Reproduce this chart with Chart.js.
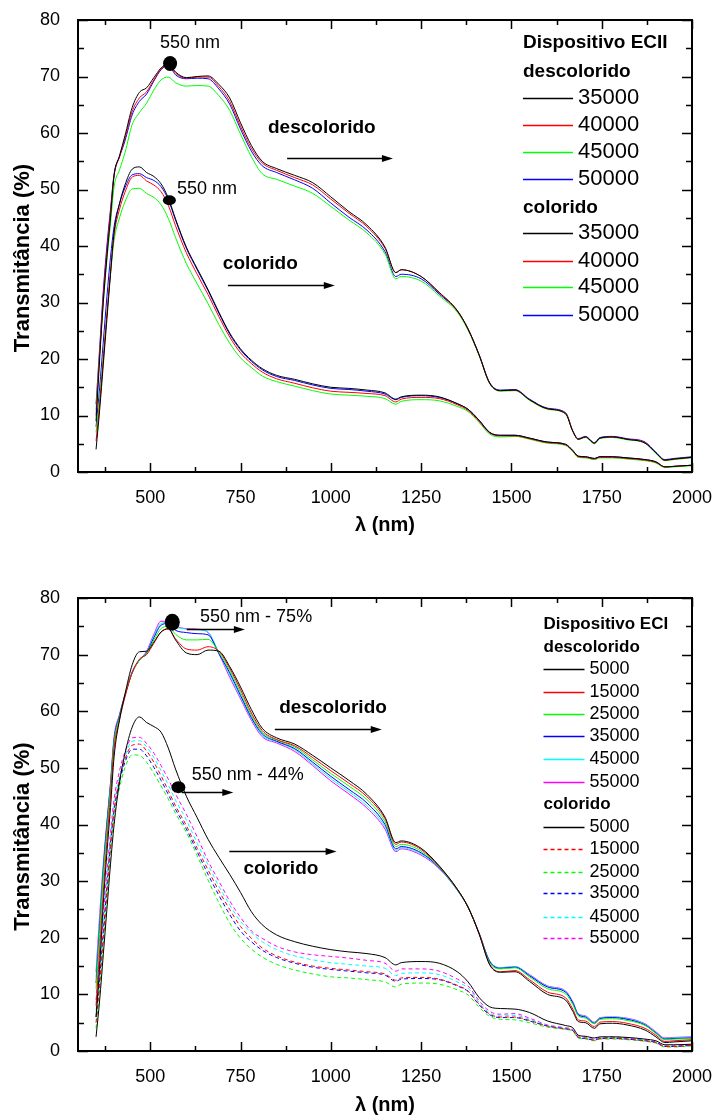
<!DOCTYPE html>
<html><head><meta charset="utf-8">
<script src="https://cdn.jsdelivr.net/npm/chart.js@4.4.0/dist/chart.umd.min.js"></script>
<style>html,body{margin:0;padding:0;background:#fff;} .box{width:714px;height:559px;position:relative;} canvas{display:block;}</style>
</head><body>
<div class="box"><canvas id="c1" width="714" height="559"></canvas></div>
<div class="box"><canvas id="c2" width="714" height="559"></canvas></div>
<script>
// ---------- data ----------
const W = [350,360,370,380,390,400,415,430,450,470,490,510,530,550,570,600,630,660,690,720,750,780,810,850,900,950,1000,1050,1100,1150,1180,1195,1250,1300,1350,1380,1410,1440,1470,1510,1550,1600,1650,1670,1685,1705,1730,1745,1780,1820,1870,1900,1925,1950,2000];
const xTickLabels = [500,750,1000,1250,1500,1750,2000];
const yTickLabels = [0,10,20,30,40,50,60,70,80];

// Top chart (Dispositivo ECII)
const topDesc35000 = [9,20,30,38,45,52.5,56,59.5,64.5,67.2,68.0,69.8,71.5,72.3,70.8,69.8,70.0,70.1,68.6,66.2,61.8,57.8,55.0,53.7,52.5,51.2,48.7,46.1,43.7,39.8,35.3,35.8,34.6,31.8,28.6,25.3,20.8,15.7,14.4,14.5,12.8,11.2,10.3,7.2,5.8,6.2,5.1,6.0,6.2,5.8,5.1,3.4,2.1,2.3,2.6];
const topDesc40000 = [10,21,31,39,46,52.5,55.8,59,63.8,66.2,67.3,69.4,71.3,72.2,70.6,69.7,69.9,69.9,68.2,65.6,61.2,57.3,54.7,53.4,52.1,50.8,48.3,45.8,43.4,39.6,35.3,35.8,34.6,31.7,28.5,25.3,20.8,15.7,14.4,14.5,12.8,11.2,10.4,7.2,5.8,6.2,5.1,6.0,6.2,5.8,5.2,3.4,2.1,2.3,2.6];
const topDesc45000 = [11,21,30,37.5,44,50.5,53.5,56.5,61.5,63.6,65.3,67.6,69.4,69.9,68.9,68.3,68.4,68.3,66.6,64.0,59.8,55.8,52.8,51.8,50.6,49.3,47.0,44.6,42.3,38.6,34.2,34.6,33.8,31.2,28.3,25.1,20.7,15.6,14.3,14.4,12.7,11.1,10.3,7.2,5.8,6.1,5.0,5.9,6.1,5.7,5.1,3.3,2.0,2.2,2.5];
const topDesc50000 = [12,22,32,40,46.5,52.8,55.8,58.6,63.2,65.6,66.9,69.2,71.2,72.0,70.3,69.6,69.7,69.6,67.8,65.1,60.7,56.8,54.2,53.0,51.7,50.2,47.6,45.1,42.8,39.0,34.6,35.0,34.2,31.5,28.5,25.3,20.9,15.8,14.5,14.6,12.9,11.3,10.5,7.3,5.9,6.3,5.2,6.1,6.3,5.9,5.3,3.5,2.2,2.4,2.7];
const topCol35000 = [4,11,19,27,35,42.5,47.5,50.8,53.6,54.0,53.0,52.3,51.0,48.5,44.8,39.8,36.0,32.3,28.3,24.6,21.8,19.8,18.3,17.1,16.4,15.6,15.0,14.8,14.5,14.0,12.9,13.3,13.6,13.3,12.1,11.1,9.2,7.0,6.5,6.5,6.0,5.3,4.9,3.8,2.8,2.7,2.4,2.7,2.7,2.5,2.2,1.8,0.9,1.0,1.2];
const topCol40000 = [5.5,12,20,28,35.5,42,46.5,49.5,52.2,52.5,51.5,50.8,49.6,47.2,43.6,38.8,35.0,31.4,27.5,23.9,21.1,19.2,17.7,16.5,15.7,14.9,14.3,14.1,13.9,13.5,12.4,12.9,13.2,13.0,11.9,10.9,9.0,6.9,6.4,6.4,5.9,5.2,4.8,3.7,2.7,2.6,2.3,2.6,2.6,2.4,2.1,1.7,0.9,1.0,1.2];
const topCol45000 = [7,13,20.5,28,35,41,45,47.8,50.1,50.2,49.3,48.6,47.3,44.9,41.5,36.9,33.3,29.8,26.1,22.8,20.2,18.5,17.0,16.0,15.2,14.4,13.8,13.6,13.4,13.0,12.0,12.5,12.8,12.6,11.6,10.7,8.8,6.7,6.2,6.3,5.8,5.1,4.7,3.6,2.6,2.5,2.2,2.5,2.5,2.3,2.0,1.6,0.8,0.9,1.1];
const topCol50000 = [8,15,23,31,38,43.5,47.5,50.3,52.6,52.8,52.1,51.6,50.5,48.2,44.6,39.6,35.8,32.1,28.1,24.4,21.6,19.6,18.1,16.9,16.2,15.4,14.8,14.6,14.3,13.8,12.8,13.2,13.5,13.2,12.1,11.1,9.2,7.0,6.5,6.5,6.0,5.3,4.9,3.8,2.8,2.7,2.4,2.7,2.7,2.5,2.2,1.8,0.9,1.0,1.2];

// Bottom chart (Dispositivo ECI)
const botDesc5000  = [6,15,26,35,43,52,58.5,63,68.2,70.5,70.6,72.2,74.0,74.6,72.6,70.3,70.0,70.8,70.6,67.9,64.3,60.3,57.0,55.3,54.2,52.2,50.0,47.8,45.3,41.3,36.8,37.1,35.8,32.7,28.6,25.4,20.8,15.2,13.9,14.0,12.3,10.0,9.0,7.0,5.2,5.0,4.0,4.8,4.9,4.6,3.7,2.5,1.5,1.6,1.8];
const botDesc15000 = [8,18,28,37,45,53.5,58.5,62.5,66.8,69.2,70.0,72.0,74.0,74.5,72.8,71.0,70.8,71.4,70.6,67.6,63.8,59.7,56.6,55.0,53.9,51.8,49.5,47.3,44.9,41.0,36.5,36.9,35.6,32.6,28.6,25.4,20.8,15.3,14.0,14.2,12.6,10.4,9.4,7.4,5.5,5.3,4.3,5.1,5.2,4.9,4.0,2.8,1.7,1.8,2.0];
const botDesc25000 = [11,21,31,39,46.5,54.5,59,62.8,66.8,69.0,70.2,72.6,74.6,75.0,73.6,72.6,72.6,72.7,70.4,67.2,63.3,59.3,56.3,54.9,53.7,51.4,49.0,46.8,44.4,40.5,36.1,36.5,35.3,32.5,28.5,25.4,20.8,15.6,14.5,14.7,13.1,11.0,10.1,8.2,6.2,5.8,4.8,5.6,5.7,5.4,4.5,3.1,2.0,2.1,2.2];
const botDesc35000 = [12,22,32,40,47,55,59.2,62.8,66.8,69.0,70.3,73.0,75.2,75.5,74.3,73.9,73.7,73.5,70.2,66.8,62.8,58.9,56.0,54.7,53.4,51.0,48.5,46.2,43.8,40.0,35.7,36.1,35.0,32.4,28.5,25.4,20.9,15.8,14.6,14.8,13.3,11.3,10.4,8.5,6.4,6.0,4.9,5.7,5.9,5.6,4.6,3.2,2.1,2.2,2.3];
const botDesc45000 = [13,23,32.5,40,47,55,59.3,62.8,66.9,69.0,70.4,73.3,75.5,75.7,74.9,74.5,74.4,74.0,70.3,66.4,62.5,58.7,55.7,54.6,53.2,50.7,48.1,45.8,43.3,39.6,35.4,35.9,34.8,32.3,28.4,25.4,20.9,15.9,14.7,14.9,13.4,11.4,10.5,8.6,6.5,6.1,5.0,5.8,6.0,5.7,4.7,3.3,2.2,2.3,2.4];
const botDesc55000 = [14,24,33,40.5,47.5,55.5,59.5,63,67,69.0,70.6,73.6,75.9,75.8,75.0,74.6,74.5,73.9,70.2,66.0,62.2,58.4,55.5,54.4,52.9,50.4,47.7,45.4,42.9,39.2,35.2,35.7,34.6,32.2,28.4,25.4,20.9,15.9,14.7,14.9,13.5,11.5,10.6,8.7,6.6,6.2,5.1,5.9,6.0,5.8,4.8,3.4,2.3,2.4,2.5];
const botCol5000  = [2.5,9,17,25,33,40,47.5,52.5,57.2,59.0,58.0,57.3,56.3,53.5,49.8,45.0,41.2,37.4,34.2,31.2,28.0,24.6,22.3,20.5,19.3,18.5,17.9,17.5,17.2,16.5,15.2,15.6,15.8,15.5,14.0,12.2,9.5,7.8,7.5,7.4,6.8,5.3,4.5,4.1,2.8,2.6,2.3,2.5,2.5,2.4,2.1,1.8,1.1,1.1,1.2];
const botCol15000 = [5,12,20,28,36,42.5,48,51.5,54.0,54.2,53.0,51.0,48.6,46.0,43.3,39.8,35.8,32.0,28.3,25.0,22.0,19.9,18.2,16.8,15.7,15.0,14.6,14.3,14.0,13.6,12.5,12.9,13.0,12.7,11.6,10.6,8.3,6.5,6.0,6.0,5.4,4.4,3.9,3.6,2.4,2.3,1.9,2.2,2.3,2.1,1.8,1.5,0.8,0.8,1.0];
const botCol25000 = [4,11,19,27,35,41.5,46.5,50,52.3,52.2,51.0,49.0,46.8,44.5,42.0,38.6,34.5,30.2,26.2,22.6,19.9,18.0,16.6,15.3,14.3,13.6,13.1,12.9,12.6,12.2,11.3,11.8,12.0,11.8,10.8,9.9,7.8,6.1,5.6,5.5,5.0,4.2,3.8,3.5,2.3,2.1,1.8,2.1,2.1,2.0,1.7,1.4,0.7,0.7,0.9];
const botCol35000 = [6,13,21,29,36.5,42.5,47.5,51,53.3,53.3,52.1,50.1,47.8,45.3,42.7,39.2,35.2,31.2,27.5,24.1,21.2,19.3,17.8,16.5,15.5,14.8,14.4,14.1,13.8,13.4,12.3,12.7,12.8,12.6,11.5,10.5,8.2,6.4,5.9,5.9,5.3,4.4,3.9,3.6,2.4,2.2,1.9,2.2,2.2,2.1,1.8,1.5,0.8,0.8,1.0];
const botCol45000 = [7,14,22,30,37.5,43.5,48.5,52,54.7,54.8,53.7,51.8,49.5,47.0,44.3,40.8,36.7,32.9,29.1,25.8,22.9,20.9,19.3,17.9,16.8,16.1,15.6,15.3,15.0,14.6,13.3,13.7,13.8,13.5,12.2,11.1,8.6,6.7,6.2,6.3,5.6,4.5,4.0,3.7,2.5,2.4,2.0,2.3,2.4,2.2,1.9,1.5,0.8,0.8,1.0];
const botCol55000 = [9,16,24,31.5,38.5,44.5,49.5,52.8,55.3,55.4,54.3,52.6,50.4,48.0,45.4,41.8,37.8,33.6,30.0,26.5,23.6,21.2,19.9,18.5,17.5,17.0,16.7,16.4,16.0,15.5,14.1,14.5,14.5,14.1,12.7,11.5,8.9,7.0,6.5,6.6,5.8,4.6,4.1,3.8,2.6,2.5,2.1,2.4,2.5,2.3,2.0,1.6,0.9,0.9,1.1];

const topLegendLabels = ['35000','40000','45000','50000'];
const botLegendLabels = ['5000','15000','25000','35000','45000','55000'];
const yTitleText = 'Transmitância (%)';
const xTitleText = 'λ (nm)';

// ---------- styles ----------
Chart.defaults.font.family = "'Liberation Sans', Arial, Helvetica, sans-serif";
Chart.defaults.color = '#000';
const FONT = "'Liberation Sans', Arial, sans-serif";
const BLACK='#000000', RED='#ff0000', GREEN='#00ff00', BLUE='#0000ff', CYAN='#00ffff', MAGENTA='#ff00ff';
const DASH=[4,3];

function drawArrow(ctx, x1, x2, y) {
  ctx.save();
  ctx.strokeStyle = '#000'; ctx.fillStyle = '#000'; ctx.lineWidth = 1.3;
  ctx.beginPath(); ctx.moveTo(x1, y); ctx.lineTo(x2 - 8, y); ctx.stroke();
  ctx.beginPath(); ctx.moveTo(x2, y); ctx.lineTo(x2 - 11, y - 3.5); ctx.lineTo(x2 - 11, y + 3.5); ctx.closePath(); ctx.fill();
  ctx.restore();
}

function buildChart(id, cfg) {
  const framePlugin = {
    id: 'frame',
    afterDraw(chart) {
      const {ctx, chartArea: a, scales: {x, y}} = chart;
      ctx.save();
      ctx.strokeStyle = '#000'; ctx.lineWidth = 2;
      ctx.strokeRect(a.left, a.top, a.right - a.left, a.bottom - a.top);
      ctx.lineWidth = 1.5;
      const xt = [];
      xTickLabels.forEach(v => xt.push([v, 9]));
      for (let v = 375; v < 2000; v += 250) xt.push([v, 5]);
      xt.forEach(([v, len]) => {
        const px = Math.round(x.getPixelForValue(v)) + 0.5;
        ctx.beginPath(); ctx.moveTo(px, a.bottom); ctx.lineTo(px, a.bottom - len);
        ctx.moveTo(px, a.top); ctx.lineTo(px, a.top + len); ctx.stroke();
      });
      const yt = [];
      yTickLabels.forEach(v => yt.push([v, 10]));
      for (let v = 5; v < 80; v += 10) yt.push([v, 6]);
      yt.forEach(([v, len]) => {
        const py = Math.round(y.getPixelForValue(v)) + 0.5;
        ctx.beginPath(); ctx.moveTo(a.left, py); ctx.lineTo(a.left + len, py);
        ctx.moveTo(a.right, py); ctx.lineTo(a.right - len, py); ctx.stroke();
      });
      // y axis title (slightly below the axis centre, as in the original)
      ctx.save();
      ctx.font = 'bold 22px ' + FONT;
      ctx.fillStyle = '#000'; ctx.textAlign = 'center'; ctx.textBaseline = 'middle';
      ctx.translate(23, (a.top + a.bottom) / 2 + 12);
      ctx.rotate(-Math.PI / 2);
      ctx.fillText(yTitleText, 0, 0);
      ctx.restore();
      ctx.restore();
    }
  };
  const notesPlugin = {
    id: 'notes',
    afterDatasetsDraw(chart) {
      const {ctx, scales: {x, y}} = chart;
      ctx.save();
      ctx.fillStyle = '#000';
      cfg.notes.dots.forEach(d => {
        ctx.beginPath();
        ctx.ellipse(x.getPixelForValue(d.x), y.getPixelForValue(d.y), d.rx, d.ry, 0, 0, Math.PI * 2);
        ctx.fill();
      });
      ctx.textBaseline = 'middle'; ctx.textAlign = 'left';
      cfg.notes.texts.forEach(t => {
        ctx.font = (t.bold ? 'bold ' : '') + t.size + 'px ' + FONT;
        ctx.fillText(t.text, x.getPixelForValue(t.x), y.getPixelForValue(t.y));
      });
      cfg.notes.arrows.forEach(r => {
        drawArrow(ctx, x.getPixelForValue(r.x1), x.getPixelForValue(r.x2), Math.round(y.getPixelForValue(r.y)) + 0.5);
      });
      ctx.restore();
    }
  };
  const legendPlugin = {
    id: 'seriesKey',
    afterDraw(chart) {
      const {ctx} = chart;
      const L = cfg.legend;
      const ds = chart.data.datasets;
      ctx.save();
      ctx.textBaseline = 'middle'; ctx.textAlign = 'left'; ctx.fillStyle = '#000';
      ctx.font = 'bold ' + L.headSize + 'px ' + FONT;
      L.heads.forEach(h => ctx.fillText(h.text, L.x, h.y));
      ctx.font = L.itemSize + 'px ' + FONT;
      L.items.forEach((yy, i) => {
        const d = ds[i];
        ctx.save();
        ctx.strokeStyle = d.borderColor; ctx.lineWidth = 1.3;
        ctx.setLineDash(d.borderDash || []);
        ctx.beginPath(); ctx.moveTo(L.x, Math.round(yy) + 0.5); ctx.lineTo(L.lineEnd, Math.round(yy) + 0.5); ctx.stroke();
        ctx.restore();
        ctx.fillText(d.label, L.textX, yy);
      });
      ctx.restore();
    }
  };
  return new Chart(document.getElementById(id), {
    type: 'line',
    data: {
      datasets: cfg.series.map(s => ({
        label: s.label,
        data: W.map((xv, i) => ({x: xv, y: s.values[i]})),
        borderColor: s.color, borderWidth: 1, borderDash: s.dash || [],
        pointRadius: 0, fill: false, cubicInterpolationMode: 'monotone'
      }))
    },
    options: {
      responsive: false, animation: false, devicePixelRatio: 1,
      layout: {padding: {top: cfg.padTop, right: 22, left: 0, bottom: 0}},
      plugins: {legend: {display: false}, tooltip: {enabled: false}},
      scales: {
        x: {
          type: 'linear', min: 300, max: 2000,
          afterBuildTicks: s => { s.ticks = xTickLabels.map(v => ({value: v})); },
          afterFit: s => { s.height = cfg.xAxisH; s.paddingLeft = 0; s.paddingRight = 0; },
          grid: {display: false}, border: {display: false},
          ticks: {color: '#000', font: {size: 18}, padding: 7, maxRotation: 0, autoSkip: false, callback: v => String(v)},
          title: {display: true, text: xTitleText, color: '#000', font: {size: 20, weight: 'bold'}, padding: {top: 0, bottom: cfg.xTitlePad}}
        },
        y: {
          min: 0, max: 80,
          afterBuildTicks: s => { s.ticks = yTickLabels.map(v => ({value: v})); },
          afterFit: s => { s.width = 78; s.paddingTop = 0; s.paddingBottom = 0; },
          grid: {display: false}, border: {display: false},
          ticks: {color: '#000', font: {size: 18}, padding: 10, callback: v => String(v)},
          title: {display: false}
        }
      }
    },
    plugins: [framePlugin, notesPlugin, legendPlugin]
  });
}

buildChart('c1', {
  padTop: 20, xAxisH: 87, xTitlePad: 22,
  series: [
    {label: topLegendLabels[0], values: topDesc35000, color: BLACK},
    {label: topLegendLabels[1], values: topDesc40000, color: RED},
    {label: topLegendLabels[2], values: topDesc45000, color: GREEN},
    {label: topLegendLabels[3], values: topDesc50000, color: BLUE},
    {label: topLegendLabels[0], values: topCol35000, color: BLACK},
    {label: topLegendLabels[1], values: topCol40000, color: RED},
    {label: topLegendLabels[2], values: topCol45000, color: GREEN},
    {label: topLegendLabels[3], values: topCol50000, color: BLUE}
  ],
  notes: {
    dots: [{x: 555, y: 72.3, rx: 7, ry: 7.5}, {x: 553, y: 48.1, rx: 6.5, ry: 5}],
    texts: [
      {text: '550 nm', x: 527, y: 75.9, size: 18},
      {text: '550 nm', x: 574, y: 50.1, size: 18},
      {text: 'descolorido', x: 826, y: 60.9, size: 19, bold: true},
      {text: 'colorido', x: 701, y: 36.8, size: 19, bold: true}
    ],
    arrows: [{x1: 879, x2: 1172, y: 55.6}, {x1: 715, x2: 1011, y: 33.1}]
  },
  legend: {
    x: 523, lineEnd: 573, textX: 578, headSize: 19, itemSize: 22,
    heads: [{text: 'Dispositivo ECII', y: 43}, {text: 'descolorido', y: 72}, {text: 'colorido', y: 207.7}],
    items: [98, 125, 152, 179, 233, 261, 287, 315]
  }
});

buildChart('c2', {
  padTop: 39, xAxisH: 67, xTitlePad: 1,
  series: [
    {label: botLegendLabels[0], values: botDesc5000, color: BLACK},
    {label: botLegendLabels[1], values: botDesc15000, color: RED},
    {label: botLegendLabels[2], values: botDesc25000, color: GREEN},
    {label: botLegendLabels[3], values: botDesc35000, color: BLUE},
    {label: botLegendLabels[4], values: botDesc45000, color: CYAN},
    {label: botLegendLabels[5], values: botDesc55000, color: MAGENTA},
    {label: botLegendLabels[0], values: botCol5000, color: BLACK},
    {label: botLegendLabels[1], values: botCol15000, color: RED, dash: DASH},
    {label: botLegendLabels[2], values: botCol25000, color: GREEN, dash: DASH},
    {label: botLegendLabels[3], values: botCol35000, color: BLUE, dash: DASH},
    {label: botLegendLabels[4], values: botCol45000, color: CYAN, dash: DASH},
    {label: botLegendLabels[5], values: botCol55000, color: MAGENTA, dash: DASH}
  ],
  notes: {
    dots: [{x: 561, y: 75.7, rx: 7.5, ry: 8.5}, {x: 578, y: 46.6, rx: 7, ry: 6}],
    texts: [
      {text: '550 nm - 75%', x: 638, y: 76.6, size: 18},
      {text: '550 nm - 44%', x: 615, y: 48.8, size: 18},
      {text: 'descolorido', x: 857, y: 60.7, size: 19, bold: true},
      {text: 'colorido', x: 758, y: 32.1, size: 19, bold: true}
    ],
    arrows: [{x1: 601, x2: 762, y: 74.5}, {x1: 587, x2: 730, y: 45.7}, {x1: 845, x2: 1141, y: 56.9}, {x1: 719, x2: 1016, y: 35.4}]
  },
  legend: {
    x: 543.5, lineEnd: 584.5, textX: 589.5, headSize: 17, itemSize: 18,
    heads: [{text: 'Dispositivo ECI', y: 65}, {text: 'descolorido', y: 88.3}, {text: 'colorido', y: 245.3}],
    items: [109.7, 132.7, 155, 177, 199.7, 222.7, 267.7, 290.3, 312.7, 334.3, 357.7, 379.3]
  }
});
</script>
</body></html>
